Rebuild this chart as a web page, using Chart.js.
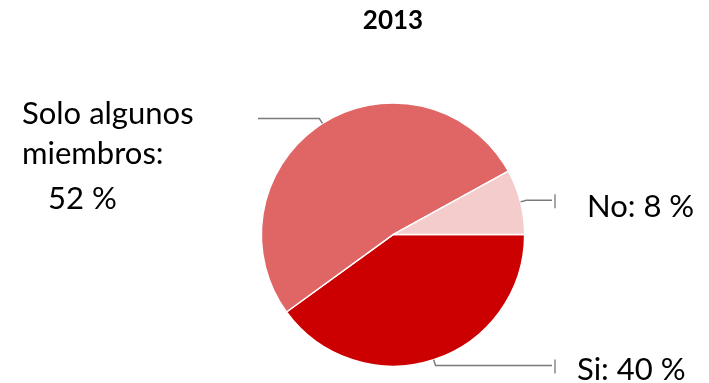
<!DOCTYPE html>
<html>
<head>
<meta charset="utf-8">
<script src="https://cdn.jsdelivr.net/npm/chart.js@4/dist/chart.umd.min.js"></script>
<style>
  html, body { margin: 0; padding: 0; background: #fff; }
  #wrap { width: 709px; height: 383px; position: relative; }
</style>
</head>
<body>
<div id="wrap"><canvas id="chart"></canvas></div>
<script>
const title = "2013";
const categories = ["Si", "Solo algunos miembros", "No"];
const values = [40, 52, 8];
const colors = ["#cc0000", "#e06666", "#f4cccc"];
// label text lines per slice
const labelLines = [
  ["Si: 40 %"],
  ["Solo algunos", "miembros:", "52 %"],
  ["No: 8 %"]
];

const FONT = "Lato, 'Open Sans', sans-serif";

// leader lines + outside labels, anchored on each arc
const outsideLabels = {
  id: "outsideLabels",
  afterDatasetsDraw(chart) {
    const ctx = chart.ctx;
    const arcs = chart.getDatasetMeta(0).data;
    ctx.save();
    arcs.forEach((arc, i) => {
      const mid = (arc.startAngle + arc.endAngle) / 2;
      const r = arc.outerRadius;
      const ex = arc.x + Math.cos(mid) * r;
      const ey = arc.y + Math.sin(mid) * r;
      const bx = arc.x + Math.cos(mid) * (r + 6);
      const by = arc.y + Math.sin(mid) * (r + 6);
      const right = Math.cos(mid) >= 0;
      const endX = right ? arc.x + 159 : arc.x - 135;

      ctx.strokeStyle = "#7a7a7a";
      ctx.lineWidth = 1.5;
      ctx.beginPath();
      ctx.moveTo(ex, ey);
      ctx.lineTo(bx, by);
      ctx.lineTo(endX, by);
      ctx.stroke();
      if (right) {
        // clipped label stub
        ctx.strokeStyle = "#888";
        ctx.lineWidth = 1.5;
        ctx.beginPath();
        ctx.moveTo(endX + 3, by - 6);
        ctx.lineTo(endX + 3, by + 8);
        ctx.stroke();
      }

      ctx.fillStyle = "#000";
      ctx.font = "31px " + FONT;
      ctx.textBaseline = "alphabetic";
      ctx.textAlign = "left";
      const lines = labelLines[i];
      if (i === 0) {
        ctx.fillText(lines[0], arc.x + 184, arc.y + 145);
      } else if (i === 2) {
        ctx.fillText(lines[0], arc.x + 194, arc.y - 18);
      } else {
        ctx.fillText(lines[0], arc.x - 371, arc.y - 111);
        ctx.fillText(lines[1], arc.x - 371, arc.y - 71);
        ctx.fillText(lines[2], arc.x - 345, arc.y - 26);
      }
    });
    ctx.restore();
  }
};

new Chart(document.getElementById("chart"), {
  type: "pie",
  data: {
    labels: categories,
    datasets: [{
      data: values,
      backgroundColor: colors,
      borderColor: "#ffffff",
      borderWidth: 1.5
    }]
  },
  options: {
    responsive: true,
    maintainAspectRatio: false,
    animation: false,
    rotation: 90,
    layout: { padding: { top: 0, bottom: 16, left: 77, right: 0 } },
    plugins: {
      legend: { display: false },
      tooltip: { enabled: false },
      title: {
        display: true,
        text: title,
        color: "#000",
        font: { family: FONT, size: 26, weight: "bold" },
        padding: { top: 5, bottom: 66 }
      }
    }
  },
  plugins: [outsideLabels]
});
</script>
</body>
</html>
